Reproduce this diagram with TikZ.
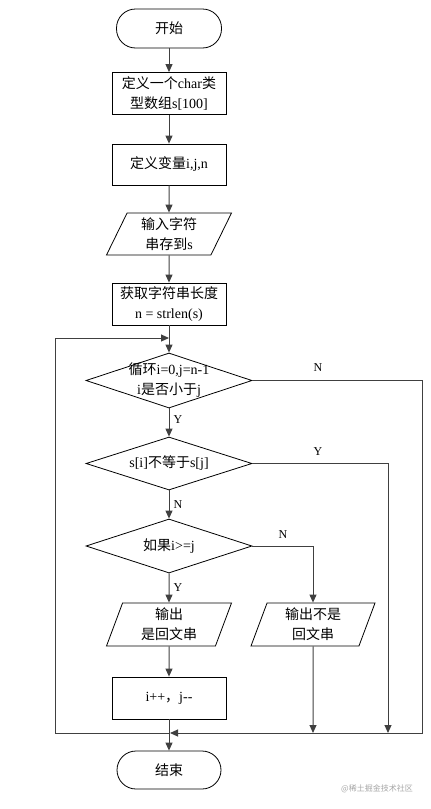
\documentclass[tikz,border=0pt]{standalone}
\usepackage{fontspec}
\setmainfont{Liberation Serif}
\newfontfamily\cjk{Noto Sans CJK SC}
\usetikzlibrary{shapes.geometric,arrows.meta}
\newcommand{\hz}[1]{{\cjk #1}}
\tikzset{
  base/.style={draw, line width=0.8pt, inner sep=0pt, align=center,
    font=\fontsize{14}{20}\selectfont},
  term/.style={base, rounded corners=19pt, minimum width=105, minimum height=39},
  proc/.style={base, minimum width=114, minimum height=42},
  io/.style={base, trapezium, trapezium left angle=64, trapezium right angle=116,
    trapezium stretches body, minimum width=125, minimum height=43},
  test/.style={base, diamond, aspect=3, minimum width=166, minimum height=54},
  flow/.style={line width=1pt, black!75},
  tag/.style={font=\fontsize{12}{12}\selectfont, inner sep=1pt}
}
\begin{document}
\begin{tikzpicture}[x=1pt, y=-1pt, >={Triangle[length=8pt,width=7pt]}]
  \useasboundingbox (0,0) rectangle (431,809);
  \node[term] (start) at (169,28.5) {\hz{开始}};
  \node[proc] (def) at (169,93.5) {\hz{定义一个}char\hz{类}\\\hz{型数组}s[100]};
  \node[proc, minimum height=41] (var) at (169,164.5) {\hz{定义变量}i,j,n};
  \node[io, trapezium left angle=58, trapezium right angle=122, minimum height=42] (inp) at (169,234) {\hz{输入字符}\\\hz{串存到}s};
  \node[proc] (len) at (169,304) {\hz{获取字符串长度}\\n = strlen(s)};
  \node[test, minimum height=55, label={[align=center, font=\fontsize{14}{20}\selectfont]center:\hz{循环}i=0,j=n-1\\i\hz{是否小于}j}] (d1) at (169,380.5) {};
  \node[test, minimum height=53] (d2) at (169,463.5) {s[i]\hz{不等于}s[j]};
  \node[test] (d3) at (169,546) {\hz{如果}i>=j};
  \node[io] (yes) at (169,624.5) {\hz{输出}\\\hz{是回文串}};
  \node[io, minimum width=124] (no) at (313,624.5) {\hz{输出不是}\\\hz{回文串}};
  \node[proc] (inc) at (169,698) {i++\hz{，}j-{}-};
  \node[term, minimum width=104, minimum height=38] (end) at (169,770) {\hz{结束}};
  \coordinate (j) at (169,733);
  \coordinate (lb) at (55,733);
  \coordinate (lt) at (55,338);
  \coordinate (top) at (169,338);
  \coordinate (r1) at (422,733);
  \coordinate (r2) at (388,733);
  \coordinate (r3) at (313,733);
  \draw[flow, ->] (start) -- (def);
  \draw[flow, ->] (def) -- (var);
  \draw[flow, ->] (var) -- (inp);
  \draw[flow, ->] (inp) -- (len);
  \draw[flow, ->] (len) -- (d1);
  \draw[flow, ->] (d1) -- (d2);
  \draw[flow, ->] (d2) -- (d3);
  \draw[flow, ->] (d3) -- (yes);
  \draw[flow, ->] (yes) -- (inc);
  \draw[flow] (inc) -- (j);
  \draw[flow, ->] (j) -- (end);
  \draw[flow, ->] (j) -- (lb) -- (lt) -- (top);
  \draw[flow, ->] (d1.east) -| (r1) -- ([xshift=1pt]j);
  \draw[flow, ->] (d2.east) -| (r2);
  \draw[flow, ->] (d3.east) -| (no);
  \draw[flow, ->] (no) -- (r3);
  \node[tag] (n1) at (318,368) {N};
  \node[tag] (y1) at (178,420) {Y};
  \node[tag] (y2) at (318,452) {Y};
  \node[tag] (n2) at (178,505) {N};
  \node[tag] (n3) at (283,535) {N};
  \node[tag] (y3) at (178,588) {Y};
  \node[font=\cjk\fontsize{8}{8}\selectfont, text=black!35] (mark) at (377,789) {@稀土掘金技术社区};
\end{tikzpicture}
\end{document}
